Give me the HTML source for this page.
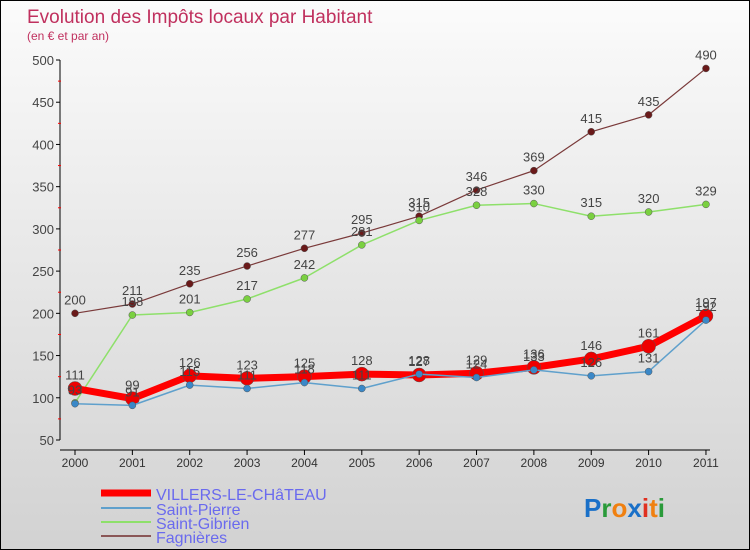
<!DOCTYPE html>
<html><head><meta charset="utf-8"><style>
body{margin:0}
#c{position:relative;width:748px;height:548px;border:1px solid #000;background:linear-gradient(#fbfbfb,#d2d2d2);font-family:"Liberation Sans",sans-serif;overflow:hidden}
</style></head><body>
<div id="c">
<svg id="s" width="748" height="548" style="position:absolute;left:0;top:0">
<text x="26" y="22" font-size="19" fill="#c0305e">Evolution des Impôts locaux par Habitant</text>
<text x="26" y="39" font-size="12" fill="#c0305e">(en € et par an)</text>
<line x1="59" y1="59" x2="59" y2="439" stroke="#000"/>
<line x1="59" y1="449" x2="709" y2="449" stroke="#000"/>
<g id="ax"></g><g id="plot"></g>
<g>
<line x1="100" y1="492" x2="150" y2="492" stroke="#f00" stroke-width="7"/>
<text x="155" y="499" font-size="16" fill="#6a6aee">VILLERS-LE-CHâTEAU</text>
<line x1="100" y1="507" x2="150" y2="507" stroke="#5fa0cc" stroke-width="2"/>
<text x="155" y="514" font-size="16" fill="#6a6aee">Saint-Pierre</text>
<line x1="100" y1="521" x2="150" y2="521" stroke="#8ee06a" stroke-width="2"/>
<text x="155" y="528" font-size="16" fill="#6a6aee">Saint-Gibrien</text>
<line x1="100" y1="535" x2="150" y2="535" stroke="#8a5656" stroke-width="2"/>
<text x="155" y="542" font-size="16" fill="#6a6aee">Fagnières</text>
</g>
<text x="583" y="516" font-size="26" font-weight="bold"><tspan fill="#1a70c8">P</tspan><tspan fill="#2a9a3a">r</tspan><tspan fill="#f08010">o</tspan><tspan fill="#1a70c8">x</tspan><tspan fill="#e03020">i</tspan><tspan fill="#f08010">t</tspan><tspan fill="#2a9a3a">i</tspan></text>
</svg>
</div>
<script>
const years=[2000,2001,2002,2003,2004,2005,2006,2007,2008,2009,2010,2011];
const villers=[111,99,126,123,125,128,127,129,136,146,161,197];
const saintPierre=[93,91,115,111,118,111,128,124,133,126,131,192];
const saintGibrien=[94,198,201,217,242,281,310,328,330,315,320,329];
const fagnieres=[200,211,235,256,277,295,315,346,369,415,435,490];
const yTicks=[50,100,150,200,250,300,350,400,450,500];
const NS="http://www.w3.org/2000/svg";
const X=i=>74+i*57.36;
const Y=v=>439-(v-50)*380/450;
function mk(t,a,p){const e=document.createElementNS(NS,t);for(const k in a)e.setAttribute(k,a[k]);p.appendChild(e);return e;}
const ax=document.getElementById('ax'),plot=document.getElementById('plot');
yTicks.forEach(v=>{
 const l=mk('line',{x1:55,x2:59,y1:Y(v),y2:Y(v),stroke:'#000'},ax);
 
 
 const t=mk('text',{x:53,y:Y(v)+5,'text-anchor':'end','font-size':13,fill:'#444'},ax);t.textContent=v;
 
 
 if(v<500){const m=mk('line',{x1:57,x2:60,y1:Y(v+25),y2:Y(v+25),stroke:'#f00'},ax);
 
 }
});
years.forEach((y,i)=>{
 const l=mk('line',{x1:X(i),x2:X(i),y1:449,y2:454,stroke:'#000'},ax);
 
 
 const t=mk('text',{x:X(i),y:466,'text-anchor':'middle','font-size':12,fill:'#333'},ax);t.textContent=y;
 
 
});
function series(vals,color,w,r,dot,name){
 const g=mk('g',{},plot);
 
 
 const p=mk('polyline',{points:vals.map((v,i)=>X(i)+','+Y(v)).join(' '),fill:'none',stroke:color,'stroke-width':w,'stroke-linejoin':'round'},g);
 
 
 vals.forEach((v,i)=>{
  const c=mk('circle',{cx:X(i),cy:Y(v),r:r,fill:dot,stroke:'#555','stroke-width':0.5},g);
  
  
  const t=mk('text',{x:X(i),y:Y(v)-9,'text-anchor':'middle','font-size':13,fill:'#444'},g);t.textContent=v;
  
  
 });
}
series(fagnieres,'#7a3a3a',1.2,3.5,'#6a1a1a','fagnieres');
series(saintGibrien,'#8ee06a',1.5,3.5,'#7ad040','saint-gibrien');
series(saintPierre,'#5fa0cc',1.5,3.5,'#3a88c8','saint-pierre');
series(villers,'#f00',7,7,'#e00','villers');
plot.appendChild(plot.children[2]);
</script>
</body></html>
